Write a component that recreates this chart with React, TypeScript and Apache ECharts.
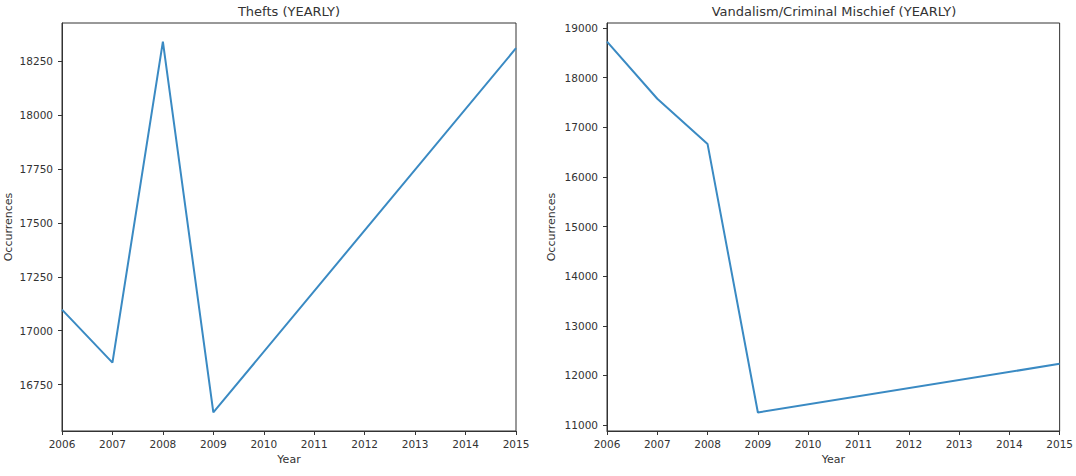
import React, { useEffect, useRef } from "react";
import * as echarts from "echarts";

const theftYears = [2006, 2007, 2008, 2009, 2015];
const theftValues = [17098, 16852, 18341, 16621, 18310];
const theftTicks = [16750, 17000, 17250, 17500, 17750, 18000, 18250];

const vandalYears = [2006, 2007, 2008, 2009, 2015];
const vandalValues = [18729, 17576, 16663, 11255, 12234];
const vandalTicks = [11000, 12000, 13000, 14000, 15000, 16000, 17000, 18000, 19000];

const titles = ["Thefts (YEARLY)", "Vandalism/Criminal Mischief (YEARLY)"];
const font = "DejaVu Sans";
const textColor = "#333";
const lineColor = "#3a8ac3";

export default function App() {
  const ref = useRef<HTMLDivElement>(null);
  useEffect(() => {
    if (!ref.current) return;
    const chart = echarts.init(ref.current, null, { renderer: "svg" });
    const grids = [
      { left: 62, top: 23, width: 454, height: 408 },
      { left: 607, top: 23, width: 454, height: 408 },
    ];
    const yRanges = [
      [16535, 18427],
      [10881, 19103],
    ];
    const yTicks = [theftTicks, vandalTicks];
    const seriesData = [
      theftYears.map((y, i) => [y, theftValues[i]]),
      vandalYears.map((y, i) => [y, vandalValues[i]]),
    ];
    const nameGaps = [48, 50];
    chart.setOption({
      animation: false,
      title: grids.map((g, i) => ({
        text: titles[i],
        left: g.left + g.width / 2,
        textAlign: "center",
        top: 5,
        padding: 0,
        textStyle: { fontFamily: font, fontSize: 13, fontWeight: "normal", color: textColor },
      })),
      grid: grids.map((g) => ({
        ...g,
        show: true,
        borderColor: "#333",
        borderWidth: 1,
        backgroundColor: "transparent",
        containLabel: false,
      })),
      xAxis: grids.map((g, i) => ({
        type: "value",
        gridIndex: i,
        min: 2006,
        max: 2015,
        interval: 1,
        name: "Year",
        nameLocation: "middle",
        nameGap: 22,
        nameTextStyle: { fontFamily: font, fontSize: 11, color: textColor },
        axisLine: { show: true, lineStyle: { color: "#333" } },
        axisTick: { show: true, length: 4, lineStyle: { color: "#333" } },
        axisLabel: {
          fontFamily: font,
          fontSize: 10.5,
          color: textColor,
          margin: 7,
          formatter: (v: number) => String(v),
        },
        splitLine: { show: false },
      })),
      yAxis: grids.map((g, i) => ({
        type: "value",
        gridIndex: i,
        min: yRanges[i][0],
        max: yRanges[i][1],
        name: "Occurrences",
        nameLocation: "middle",
        nameGap: nameGaps[i],
        nameTextStyle: { fontFamily: font, fontSize: 11, color: textColor },
        axisLine: { show: true, lineStyle: { color: "#333" } },
        axisTick: { show: true, length: 4, lineStyle: { color: "#333" }, customValues: yTicks[i] },
        axisLabel: {
          fontFamily: font,
          fontSize: 10.5,
          color: textColor,
          margin: 9,
          customValues: yTicks[i],
          formatter: (v: number) => String(v),
        },
        splitLine: { show: false },
      })),
      series: seriesData.map((d, i) => ({
        type: "line",
        xAxisIndex: i,
        yAxisIndex: i,
        data: d,
        showSymbol: false,
        symbol: "none",
        lineStyle: { color: lineColor, width: 2 },
      })),
    });
    return () => chart.dispose();
  }, []);
  return (
    <div
      ref={ref}
      style={{ position: "fixed", left: 0, top: 0, width: 1076, height: 476, background: "#fff" }}
    />
  );
}
